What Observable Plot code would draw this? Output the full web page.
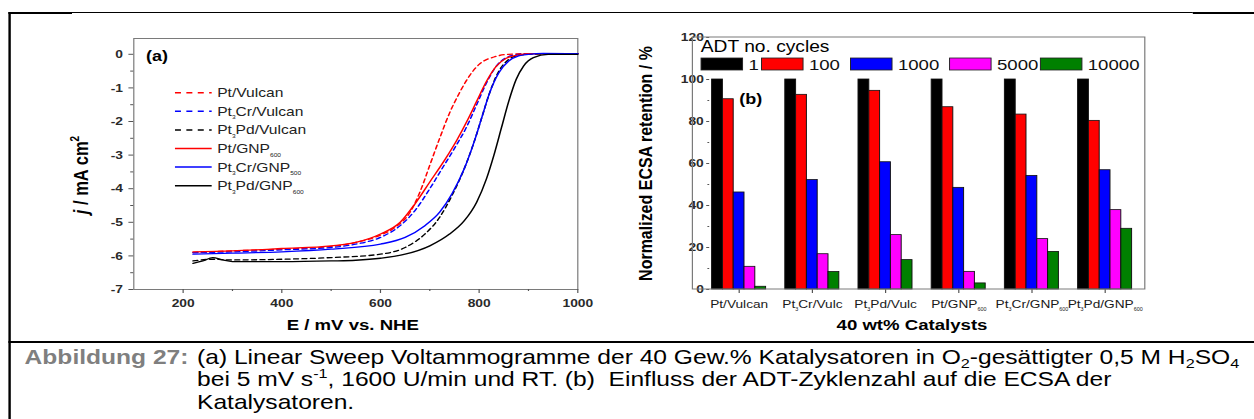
<!DOCTYPE html>
<html><head><meta charset="utf-8">
<script src="https://cdn.jsdelivr.net/npm/d3@7"></script>
<script src="https://cdn.jsdelivr.net/npm/@observablehq/plot@0.6"></script>
<style>
html,body{margin:0;padding:0;background:#fff;overflow:hidden;width:1254px;height:419px}
#page{position:absolute;left:0;top:0;width:1045px;height:419px;transform:scaleX(1.2);transform-origin:0 0;overflow:hidden;font-family:"Liberation Sans",Arial,sans-serif;background:#fff}
.abs{position:absolute}
.rule{position:absolute;background:#000}
</style></head><body>
<div id="page">
  <div class="rule" style="left:7px;top:12px;width:53px;height:2px"></div>
  <div class="rule" style="left:60px;top:12px;width:934px;height:1px"></div>
  <div class="rule" style="left:994px;top:12px;width:51px;height:2px"></div>
  <div class="rule" style="left:7px;top:12px;width:2px;height:407px"></div>
  <div class="rule" style="left:7px;top:341px;width:1038px;height:2px"></div>
  <div id="panelA" class="abs" style="left:0;top:0"></div>
  <div id="panelB" class="abs" style="left:517px;top:0"></div>
  <svg id="overlay" class="abs" style="left:0;top:0;overflow:visible" width="1045" height="419" font-family="Liberation Sans, Arial, sans-serif">
    <text x="121.7" y="61" font-size="15" font-weight="bold">(a)</text>
    <text x="616" y="104" font-size="15" font-weight="bold">(b)</text>
    <text transform="translate(73,175) rotate(-90)" text-anchor="middle" font-size="16.5" font-weight="bold"><tspan font-style="italic">j</tspan> / mA cm<tspan font-size="10" dy="-7">2</tspan></text>
    <text transform="translate(543,163.5) rotate(-90)" text-anchor="middle" font-size="16" font-weight="bold">Normalized ECSA retention / %</text>
    <text x="294" y="330" text-anchor="middle" font-size="15.5" font-weight="bold">E / mV vs. NHE</text>
    <text x="760" y="330" text-anchor="middle" font-size="15.5" font-weight="bold">40 wt% Catalysts</text>
    <text x="584" y="52" font-size="16">ADT no. cycles</text>
    <g id="legA"></g>
    <g id="legB"></g>
    <text x="20.5" y="364" font-size="20.5" font-weight="bold" fill="#7f7f7f">Abbildung 27:</text>
    <text x="164.2" y="364" font-size="20.5">(a) Linear Sweep Voltammogramme der 40 Gew.% Katalysatoren in O<tspan font-size="13.5" dy="4">2</tspan><tspan dy="-4">-gesättigter 0,5 M H</tspan><tspan font-size="13.5" dy="4">2</tspan><tspan dy="-4">SO</tspan><tspan font-size="13.5" dy="4">4</tspan></text>
    <text x="164.2" y="386.5" font-size="20.5" style="white-space:pre">bei 5 mV s<tspan font-size="13.5" dy="-8">-1</tspan><tspan dy="8">, 1600 U/min und RT. (b)  Einfluss der ADT-Zyklenzahl auf die ECSA der</tspan></text>
    <text x="164.2" y="409" font-size="20.5">Katalysatoren.</text>
  </svg>
</div>
<script>
// ---------- Panel (a): linear sweep voltammograms ----------
const E_ptVulcan   = [220,300,400,500,550,600,630,660,680,700,720,740,760,780,800,830,860,900,1000];
const J_ptVulcan   = [-5.9,-5.85,-5.8,-5.72,-5.6,-5.38,-5.15,-4.7,-4.1,-3.3,-2.5,-1.75,-1.15,-0.65,-0.3,-0.08,0,0.02,0.02];
const E_pt3CrVulcan = [220,300,400,500,550,600,640,670,700,725,750,775,795,815,835,855,880,900,1000];
const J_pt3CrVulcan = [-5.9,-5.88,-5.82,-5.75,-5.65,-5.45,-5.1,-4.65,-4.0,-3.4,-2.8,-2.15,-1.5,-0.85,-0.35,-0.1,0,0.02,0.02];
const E_pt3PdVulcan = [220,260,300,400,500,600,650,690,720,745,770,790,805,820,840,860,880,900,1000];
const J_pt3PdVulcan = [-6.15,-6.1,-6.12,-6.1,-6.05,-5.95,-5.75,-5.35,-4.85,-4.2,-3.4,-2.6,-1.9,-1.2,-0.5,-0.15,-0.03,0,0.02];
const E_ptGNP      = [220,300,400,500,550,600,640,670,700,730,755,775,795,815,835,855,880,900,1000];
const J_ptGNP      = [-5.88,-5.85,-5.78,-5.7,-5.6,-5.35,-5.0,-4.45,-3.8,-3.15,-2.55,-2.0,-1.4,-0.8,-0.35,-0.12,-0.02,0.02,0.02];
const E_pt3CrGNP   = [220,300,400,500,600,650,690,720,745,770,790,805,820,840,860,880,900,930,1000];
const J_pt3CrGNP   = [-5.95,-5.92,-5.88,-5.8,-5.65,-5.45,-5.1,-4.7,-4.15,-3.4,-2.6,-1.9,-1.2,-0.55,-0.2,-0.05,0,0.03,0.02];
const E_pt3PdGNP   = [220,240,260,280,300,400,500,550,600,650,700,740,770,795,815,830,845,860,875,890,910,940,1000];
const J_pt3PdGNP   = [-6.22,-6.15,-6.05,-6.12,-6.17,-6.17,-6.15,-6.13,-6.07,-5.95,-5.7,-5.35,-4.95,-4.4,-3.7,-3.0,-2.2,-1.4,-0.75,-0.35,-0.1,0,0];

const lsvNames = ["Pt/Vulcan","Pt_{3}Cr/Vulcan","Pt_{3}Pd/Vulcan","Pt/GNP_{600}","Pt_{3}Cr/GNP_{500}","Pt_{3}Pd/GNP_{600}"];
const lsvE = [E_ptVulcan,E_pt3CrVulcan,E_pt3PdVulcan,E_ptGNP,E_pt3CrGNP,E_pt3PdGNP];
const lsvJ = [J_ptVulcan,J_pt3CrVulcan,J_pt3PdVulcan,J_ptGNP,J_pt3CrGNP,J_pt3PdGNP];
const lsvColors = ["#ff0000","#0000ff","#000000","#ff0000","#0000ff","#000000"];
const lsvDashed = [true,true,true,false,false,false];

const yTicksA = [0,-1,-2,-3,-4,-5,-6,-7];
const yMinorA = [-0.5,-1.5,-2.5,-3.5,-4.5,-5.5,-6.5];
const xTicksA = [200,400,600,800,1000];
const xMinorA = [300,500,700,900];

// ---------- Panel (b): ECSA retention ----------
const catalysts = ["Pt/Vulcan","Pt3Cr/Vulc","Pt3Pd/Vulc","Pt/GNP600","Pt3Cr/GNP600","Pt3Pd/GNP600"];
const cycles = ["1","100","1000","5000","10000"];
const ret1     = [100,100,100,100,100,100];
const ret100   = [90.6,92.7,94.6,86.8,83.3,80.3];
const ret1000  = [46.2,52.1,60.6,48.4,54.1,56.8];
const ret5000  = [10.8,16.8,25.9,8.4,24.0,37.8];
const ret10000 = [1.3,8.3,14.0,2.9,17.9,28.9];
const cycleColors = ["#000000","#ff0000","#0000ff","#ff00ff","#008000"];
const yTicksB = [0,20,40,60,80,100,120];
const yMinorB = [10,30,50,70,90,110];

const SVGNS = "http://www.w3.org/2000/svg";
function richify(root, subSize, shift){
  root.querySelectorAll("text").forEach(t=>{
    const s = t.textContent;
    if(!s.includes("_{")) return;
    t.textContent = "";
    const re=/_\{([^}]*)\}/g; let last=0, m, pending=0;
    const add=(str,sub)=>{
      if(!str) return;
      const ts=document.createElementNS(SVGNS,"tspan"); ts.textContent=str;
      if(sub){ts.setAttribute("font-size",subSize); ts.setAttribute("dy",shift); pending=shift;}
      else if(pending){ts.setAttribute("dy",-pending); pending=0;}
      t.appendChild(ts);
    };
    while((m=re.exec(s))){ add(s.slice(last,m.index),false); add(m[1],true); last=re.lastIndex; }
    add(s.slice(last),false);
  });
}

// Panel (a)
const lsv = lsvNames.flatMap((s,k)=> lsvE[k].map((e,i)=>({series:s, E:e, j:lsvJ[k][i]})));
const plotA = Plot.plot({
  width:517, height:340, marginLeft:111, marginRight:36, marginTop:38, marginBottom:51,
  x:{domain:[100,1000]}, y:{domain:[-7,0.47]},
  style:{fontFamily:"Liberation Sans, Arial, sans-serif", fontSize:"11.5px", fontWeight:"bold", color:"#2a2a2a", background:"transparent", overflow:"visible"},
  marks:[
    Plot.frame({stroke:"#7a7a7a"}),
    Plot.axisY({ticks:yTicksA, tickSize:4, tickPadding:5, tickFormat:d=>String(d), label:null, stroke:"#555"}),
    Plot.axisY({ticks:yMinorA, tickSize:2.5, tickFormat:()=>"", label:null, stroke:"#555"}),
    Plot.axisX({ticks:xTicksA, tickSize:4, tickPadding:5, tickFormat:d=>String(d), label:null, stroke:"#555"}),
    Plot.axisX({ticks:xMinorA, tickSize:2, tickFormat:()=>"", label:null, stroke:"#555"}),
    ...lsvNames.map((s,k)=>Plot.line(lsv,{filter:d=>d.series===s, x:"E", y:"j", stroke:lsvColors[k],
      strokeWidth:1.3, strokeDasharray: lsvDashed[k]?"4,3":null, curve:"monotone-x"}))
  ]
});
document.getElementById("panelA").appendChild(plotA);

// Panel (b)
const retSeries = [ret1,ret100,ret1000,ret5000,ret10000];
const ecsa = cycles.flatMap((c,k)=> catalysts.map((cat,i)=>({catalyst:cat, cycle:c, value:retSeries[k][i]})));
const fmtCat = c => c.replace(/^Pt3/,"Pt_{3}").replace(/GNP600$/,"GNP_{600}");
const W_B=528, ML_B=60, MR_B=91, MT_B=37, MB_B=51, H_B=340;
const plotB = Plot.plot({
  width:W_B, height:H_B, marginLeft:ML_B, marginRight:MR_B, marginTop:MT_B, marginBottom:MB_B,
  fx:{domain:catalysts, paddingInner:0.189, paddingOuter:0.1405, align:0.62, label:null},
  x:{domain:cycles, padding:0, axis:null},
  y:{domain:[0,120]},
  color:{domain:cycles, range:cycleColors},
  style:{fontFamily:"Liberation Sans, Arial, sans-serif", fontSize:"11.5px", fontWeight:"bold", color:"#2a2a2a", background:"transparent", overflow:"visible"},
  marks:[
    Plot.barY(ecsa,{fx:"catalyst", x:"cycle", y:"value", fill:"cycle", stroke:"#111", strokeWidth:0.8}),
    Plot.axisY({ticks:yTicksB, tickSize:2.5, tickPadding:2.5, tickFormat:d=>String(d), label:null, stroke:"#555"}),
    Plot.axisY({ticks:yMinorB, tickSize:1.5, tickFormat:()=>"", label:null, stroke:"#555"}),
    Plot.axisFx({anchor:"bottom", tickSize:4, tickPadding:6, tickFormat:fmtCat, label:null, stroke:"#555"})
  ]
});
d3.select(plotB).append("rect").attr("x",ML_B).attr("y",MT_B).attr("width",W_B-ML_B-MR_B).attr("height",H_B-MT_B-MB_B)
  .attr("fill","none").attr("stroke","#7a7a7a");
d3.select(plotB).selectAll('g[aria-label="fx-axis tick label"]').attr("font-weight","normal").attr("font-size",11.4).attr("fill","#1a1a1a");
richify(plotB, 4.5, 3);
document.getElementById("panelB").appendChild(plotB);

// Legend (a)
const legA = d3.select("#legA");
lsvNames.forEach((s,k)=>{
  const y = 92.7 + k*18.6;
  legA.append("line").attr("x1",145.8).attr("x2",176.4).attr("y1",y).attr("y2",y)
    .attr("stroke",lsvColors[k]).attr("stroke-width",1.5).attr("stroke-dasharray",lsvDashed[k]?"5,4.5":null);
  legA.append("text").attr("x",181).attr("y",y+4.6).attr("font-size",13).attr("fill","#222").text(s);
});
richify(document.getElementById("legA"), 5.5, 3.5);

// Legend (b)
const legB = d3.select("#legB");
const swX = [584.2,634.6,708.75,791.3,867];
cycles.forEach((c,k)=>{
  legB.append("rect").attr("x",swX[k]).attr("y",58).attr("width",34.6).attr("height",12)
    .attr("fill",cycleColors[k]).attr("stroke","#222").attr("stroke-width",0.8);
  legB.append("text").attr("x",swX[k]+39.5).attr("y",69.8).attr("font-size",15.5).attr("fill","#111").text(c);
});
</script>
</body></html>
